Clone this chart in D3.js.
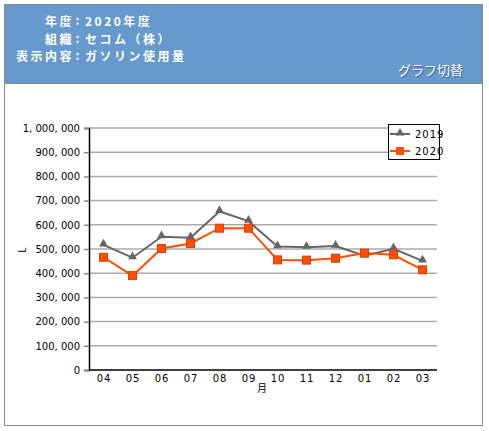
<!DOCTYPE html>
<html>
<head>
<meta charset="utf-8">
<script src="https://cdn.jsdelivr.net/npm/d3@7"></script>
<style>
  body { margin: 0; background: #fff; }
  text { font-family: "Noto Sans CJK JP", "DejaVu Sans", sans-serif; }
</style>
</head>
<body>
<svg id="chart"></svg>
<script>
var w = 489; // Width of the SVG element
var h = 431; // Height of the SVG element

// chart data
var months = ["04", "05", "06", "07", "08", "09", "10", "11", "12", "01", "02", "03"];
var values2019 = [517000, 464000, 551000, 547000, 655000, 615000, 510000, 507000, 512000, 472000, 501000, 451000];
var values2020 = [466000, 390000, 502000, 523000, 586000, 586000, 455000, 454000, 462000, 483000, 476000, 414000];
var seriesNames = ["2019", "2020"];
var yTicks = [0, 100000, 200000, 300000, 400000, 500000, 600000, 700000, 800000, 900000, 1000000];
var headerLabels = ["年度", "組織", "表示内容"];
var headerValues = ["2020年度", "セコム（株）", "ガソリン使用量"];

var plot = { left: 89, right: 437, top: 128, bottom: 370 };

var svg = d3.select("#chart")
  .attr("width", w)
  .attr("height", h);

// outer frame + header band
svg.append("rect")
  .attr("x", 4.5).attr("y", 4.5)
  .attr("width", 478).attr("height", 421)
  .attr("fill", "#fff")
  .attr("stroke", "#8a8a8a");

svg.append("rect")
  .attr("x", 5).attr("y", 5)
  .attr("width", 477).attr("height", 78)
  .attr("fill", "#6699cc");

svg.append("line")
  .attr("x1", 5).attr("x2", 482)
  .attr("y1", 83.5).attr("y2", 83.5)
  .attr("stroke", "#8a8a8a");

var headerY = [26, 43.5, 61];
headerLabels.forEach(function(lab, i) {
  svg.append("text")
    .attr("x", 74).attr("y", headerY[i])
    .attr("text-anchor", "end")
    .attr("fill", "white")
    .attr("font-size", "12px")
    .attr("font-weight", "bold")
    .style("letter-spacing", "2.5px")
    .text(lab);
  svg.append("text")
    .attr("x", 77.5).attr("y", headerY[i] - 1)
    .attr("text-anchor", "middle")
    .attr("fill", "white")
    .attr("font-size", "12px")
    .attr("font-weight", "bold")
    .text(":");
  svg.append("text")
    .attr("x", 85).attr("y", headerY[i])
    .attr("fill", "white")
    .attr("font-size", "12px")
    .attr("font-weight", "bold")
    .style("letter-spacing", "2.5px")
    .text(headerValues[i]);
});

svg.append("text")
  .attr("x", 463).attr("y", 75)
  .attr("text-anchor", "end")
  .attr("fill", "white")
  .attr("font-size", "13px")
  .style("text-shadow", "1px 1px 1px #3a5f88")
  .text("グラフ切替");

// scales
var xScale = d3.scalePoint()
  .domain(months)
  .range([plot.left, plot.right])
  .padding(0.5);

var yScale = d3.scaleLinear()
  .domain([0, 1000000])
  .range([plot.bottom, plot.top]);

// gridlines
svg.append("g")
  .selectAll("line")
  .data(yTicks.filter(function(d) { return d > 0; }))
  .enter()
  .append("line")
  .attr("x1", plot.left)
  .attr("x2", plot.right)
  .attr("y1", function(d) { return yScale(d); })
  .attr("y2", function(d) { return yScale(d); })
  .attr("stroke", "#aaa")
  .attr("stroke-width", 1.5);

// y axis
var fmt = d3.format(",");
var yAxis = svg.append("g")
  .attr("transform", "translate(" + plot.left + ",0)")
  .call(d3.axisLeft(yScale).tickValues(yTicks).tickSize(5).tickPadding(4)
    .tickFormat(function(d) { return fmt(d).replace(/,/g, ", "); }));
yAxis.select(".domain").attr("stroke", "#000").attr("stroke-width", 1.5);
yAxis.selectAll(".tick line").attr("stroke", "#888").attr("stroke-width", 1.5);
yAxis.selectAll("text")
  .attr("fill", "#000")
  .style("font-size", "10px")
  .style("font-family", "\"DejaVu Sans\", sans-serif");

// x axis
var xAxis = svg.append("g")
  .attr("transform", "translate(0," + plot.bottom + ")")
  .call(d3.axisBottom(xScale).tickSize(0).tickPadding(5));
xAxis.select(".domain").attr("stroke", "#000").attr("stroke-width", 1.5)
  .attr("d", "M" + plot.left + ",0H" + plot.right);
xAxis.selectAll("text")
  .attr("fill", "#000")
  .style("font-size", "10px")
  .style("letter-spacing", "1px")
  .style("font-family", "\"DejaVu Sans\", sans-serif");

// axis titles
svg.append("text")
  .attr("transform", "translate(26,250) rotate(-90)")
  .attr("text-anchor", "middle")
  .attr("font-size", "10px")
  .text("L");

svg.append("text")
  .attr("x", 262).attr("y", 392)
  .attr("text-anchor", "middle")
  .attr("font-size", "10px")
  .text("月");

// lines
var line = d3.line()
  .x(function(d, i) { return xScale(months[i]); })
  .y(function(d) { return yScale(d); });

svg.append("path")
  .datum(values2019)
  .attr("d", line)
  .attr("fill", "none")
  .attr("stroke", "#666")
  .attr("stroke-width", 2);

svg.append("path")
  .datum(values2020)
  .attr("d", line)
  .attr("fill", "none")
  .attr("stroke", "#ff5000")
  .attr("stroke-width", 2);

var tri = d3.symbol().type(d3.symbolTriangle).size(34);

svg.append("g")
  .selectAll("path")
  .data(values2019)
  .enter()
  .append("path")
  .attr("d", tri)
  .attr("transform", function(d, i) { return "translate(" + xScale(months[i]) + "," + (yScale(d) - 1) + ")"; })
  .attr("fill", "#666");

svg.append("g")
  .selectAll("rect")
  .data(values2020)
  .enter()
  .append("rect")
  .attr("x", function(d, i) { return xScale(months[i]) - 4; })
  .attr("y", function(d) { return yScale(d) - 4; })
  .attr("width", 8)
  .attr("height", 8)
  .attr("fill", "#ff5000")
  .attr("stroke", "#dd3d00")
  .attr("stroke-width", 1);

// legend
var legend = svg.append("g");
legend.append("rect")
  .attr("x", 388.5).attr("y", 124.5)
  .attr("width", 51).attr("height", 35)
  .attr("fill", "#fff")
  .attr("stroke", "#000");

var legendY = [134, 151];
seriesNames.forEach(function(name, i) {
  var col = i === 0 ? "#666" : "#ff5000";
  legend.append("line")
    .attr("x1", 390).attr("x2", 410)
    .attr("y1", legendY[i]).attr("y2", legendY[i])
    .attr("stroke", col).attr("stroke-width", 2);
  if (i === 0) {
    legend.append("path")
      .attr("d", tri)
      .attr("transform", "translate(400," + (legendY[i] - 1) + ")")
      .attr("fill", col);
  } else {
    legend.append("rect")
      .attr("x", 396).attr("y", legendY[i] - 4)
      .attr("width", 8).attr("height", 8)
      .attr("fill", col);
  }
  legend.append("text")
    .attr("x", 415).attr("y", legendY[i] + 4)
    .attr("font-size", "10px")
    .style("letter-spacing", "1px")
    .style("font-family", "\"DejaVu Sans\", sans-serif")
    .text(name);
});
</script>
</body>
</html>
